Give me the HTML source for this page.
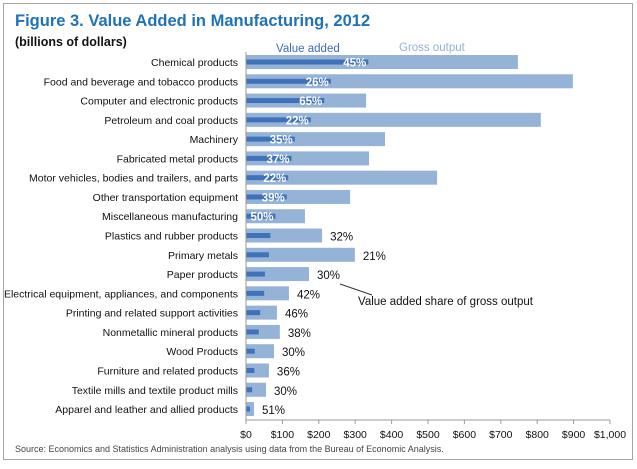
<!DOCTYPE html>
<html><head><meta charset="utf-8"><style>
body{margin:0;background:#fff;width:637px;height:464px;overflow:hidden;font-family:"Liberation Sans",sans-serif}
svg text{font-family:"Liberation Sans",sans-serif}
</style></head><body>
<svg id="chart" width="637" height="464" xmlns="http://www.w3.org/2000/svg">
<rect x="3.5" y="3.5" width="629" height="456" fill="#fff" stroke="#a6a6a6"/>
<text x="15" y="26" font-size="16.5" font-weight="bold" fill="#1f72b8">Figure 3. Value Added in Manufacturing, 2012</text>
<text x="15" y="46" font-size="12.5" font-weight="bold" fill="#111">(billions of dollars)</text>
<text x="276" y="52" font-size="11.5" fill="#3d6db0">Value added</text>
<text x="399" y="51" font-size="11.5" fill="#93afd8">Gross output</text>
<g id="bars"></g>
<line x1="246" y1="52" x2="246" y2="420" stroke="#999"/>
<line x1="246" y1="420" x2="610" y2="420" stroke="#999"/>
<g id="ticks"></g>
<line x1="340" y1="284" x2="372" y2="295" stroke="#333"/>
<text x="358" y="305" font-size="11.5" fill="#111">Value added share of gross output</text>
<text x="15" y="452" font-size="9" fill="#444">Source: Economics and Statistics Administration analysis using data from the Bureau of Economic Analysis.</text>
</svg>
<script>
const categories=["Chemical products","Food and beverage and tobacco products","Computer and electronic products","Petroleum and coal products","Machinery","Fabricated metal products","Motor vehicles, bodies and trailers, and parts","Other transportation equipment","Miscellaneous manufacturing","Plastics and rubber products","Primary metals","Paper products","Electrical equipment, appliances, and components","Printing and related support activities","Nonmetallic mineral products","Wood Products","Furniture and related products","Textile mills and textile product mills","Apparel and leather and allied products"];
const grossOutput=[747,898,330,810,382,338,525,286,162,209,299,173,118,85,93,77,63,55,22];
const valueAdded=[336,233,215,178,134,125,116,112,81,67,63,52,50,39,35,24,23,17,11];
const shareLabels=["45%","26%","65%","22%","35%","37%","22%","39%","50%","32%","21%","30%","42%","46%","38%","30%","36%","30%","51%"];
const tickValues=[0,100,200,300,400,500,600,700,800,900,1000];
const tickLabels=["$0","$100","$200","$300","$400","$500","$600","$700","$800","$900","$1,000"];
const NS="http://www.w3.org/2000/svg";
const x=v=>246+v*0.364;
const y=i=>62+i*19.28;
function mk(tag,attrs,parent,txt){const e=document.createElementNS(NS,tag);for(const k in attrs)e.setAttribute(k,attrs[k]);if(txt!==undefined)e.textContent=txt;parent.appendChild(e);return e;}
const bars=document.getElementById('bars');
categories.forEach((c,i)=>{
  const cy=y(i);
  const lab=mk('text',{x:238,y:cy+4,'font-size':10.5,'text-anchor':'end',fill:'#111'},bars,c);
  
  
  const g=mk('rect',{x:246,y:cy-7,width:x(grossOutput[i])-246,height:14,fill:'#95b3d7'},bars);
  
  
  const v=mk('rect',{x:246,y:cy-2.5,width:x(valueAdded[i])-246,height:5,fill:'#3f72b9'},bars);
  
  
  let t;
  if(i<9){
    t=mk('text',{x:Math.max(x(valueAdded[i])-2,266),y:cy+4.5,'font-size':11.5,'font-weight':'bold','text-anchor':'end',fill:'#fff'},bars,shareLabels[i]);
  }else{
    t=mk('text',{x:x(grossOutput[i])+8,y:cy+5,'font-size':11.5,fill:'#111'},bars,shareLabels[i]);
  }
  
  
});
const ticks=document.getElementById('ticks');
tickValues.forEach((v,i)=>{
  const l=mk('line',{x1:x(v),y1:420,x2:x(v),y2:424,stroke:'#999'},ticks);
  
  
  const t=mk('text',{x:x(v),y:438,'font-size':10.5,'text-anchor':'middle',fill:'#111'},ticks,tickLabels[i]);
  
  
});
</script>
</body></html>
